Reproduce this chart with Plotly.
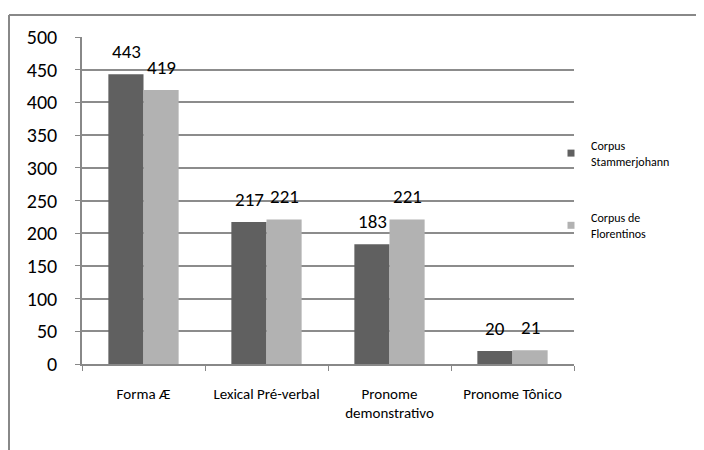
import plotly.graph_objects as go

categories = ["Forma Æ", "Lexical Pré-verbal", "Pronome<br>demonstrativo", "Pronome Tônico"]
series_names = ["Corpus<br>Stammerjohann", "Corpus de<br>Florentinos"]
stammerjohann = [443, 217, 183, 20]
florentinos = [419, 221, 221, 21]
y_ticks = [0, 50, 100, 150, 200, 250, 300, 350, 400, 450, 500]

colors = ["#606060", "#b2b2b2"]
FONT = "Carlito, Liberation Sans, Arial, sans-serif"

OFF = 8  # page body margin
W, H = 704 - OFF, 450 - OFF
L, T = 82 - OFF, 37 - OFF
pw, ph = 492, 327
R, B = W - L - pw, H - T - ph

fig = go.Figure()
series = [stammerjohann, florentinos]
for i, (name, vals) in enumerate(zip(series_names, series)):
    fig.add_trace(go.Bar(x=categories, y=vals, name=name, marker=dict(color=colors[i], line=dict(width=0)),
                         showlegend=False))
    fig.add_trace(go.Scatter(x=[None], y=[None], mode="markers", name=name, legendgroup=f"g{i}",
                             marker=dict(symbol="square", size=7, color=colors[i])))

# data labels
for i, vals in enumerate(series):
    for c, v in zip(categories, vals):
        fig.add_annotation(x=c, y=v, text=str(v), showarrow=False, xanchor="center", yanchor="bottom",
                           xshift=(-17.5 if i == 0 else 17.5), yshift=9,
                           font=dict(size=19, color="#000", family=FONT))

# screen pixel -> paper coordinates
def sx(x):
    return (x - OFF - L) / pw
def sy(y):
    return (H - B - (y - OFF)) / ph

fig.add_shape(type="line", xref="paper", yref="paper", x0=sx(9), x1=sx(720),
              y0=sy(15), y1=sy(15), line=dict(color="#888888", width=2))
fig.add_shape(type="line", xref="paper", yref="paper", x0=sx(9), x1=sx(9),
              y0=sy(15), y1=sy(470), line=dict(color="#888888", width=2))

fig.update_layout(
    width=W, height=H,
    margin=dict(l=L, r=R, t=T, b=B, autoexpand=False),
    paper_bgcolor="white", plot_bgcolor="white",
    barmode="group", bargap=1.5 / 3.5, bargroupgap=0,
    font=dict(family=FONT, color="#000"),
    showlegend=True,
    legend=dict(x=sx(551), y=sy(131), xanchor="left", yanchor="top",
                font=dict(size=12, family=FONT), tracegroupgap=38, itemwidth=30,
                bgcolor="rgba(0,0,0,0)", valign="middle"),
    xaxis=dict(type="category", showline=True, linecolor="#888888", linewidth=1.5,
               ticks="outside", tickson="boundaries", ticklen=5, tickcolor="#888888",
               tickfont=dict(size=15, family=FONT), ticklabelstandoff=15, showgrid=False),
    yaxis=dict(range=[0, 500], tickvals=y_ticks, showline=True, linecolor="#888888", linewidth=1.5,
               ticks="outside", ticklen=5, tickcolor="#888888", showgrid=True,
               gridcolor="#8c8c8c", gridwidth=1.5, zeroline=False,
               tickfont=dict(size=20, family=FONT), ticklabelstandoff=14),
)

fig.write_html("out.html")
